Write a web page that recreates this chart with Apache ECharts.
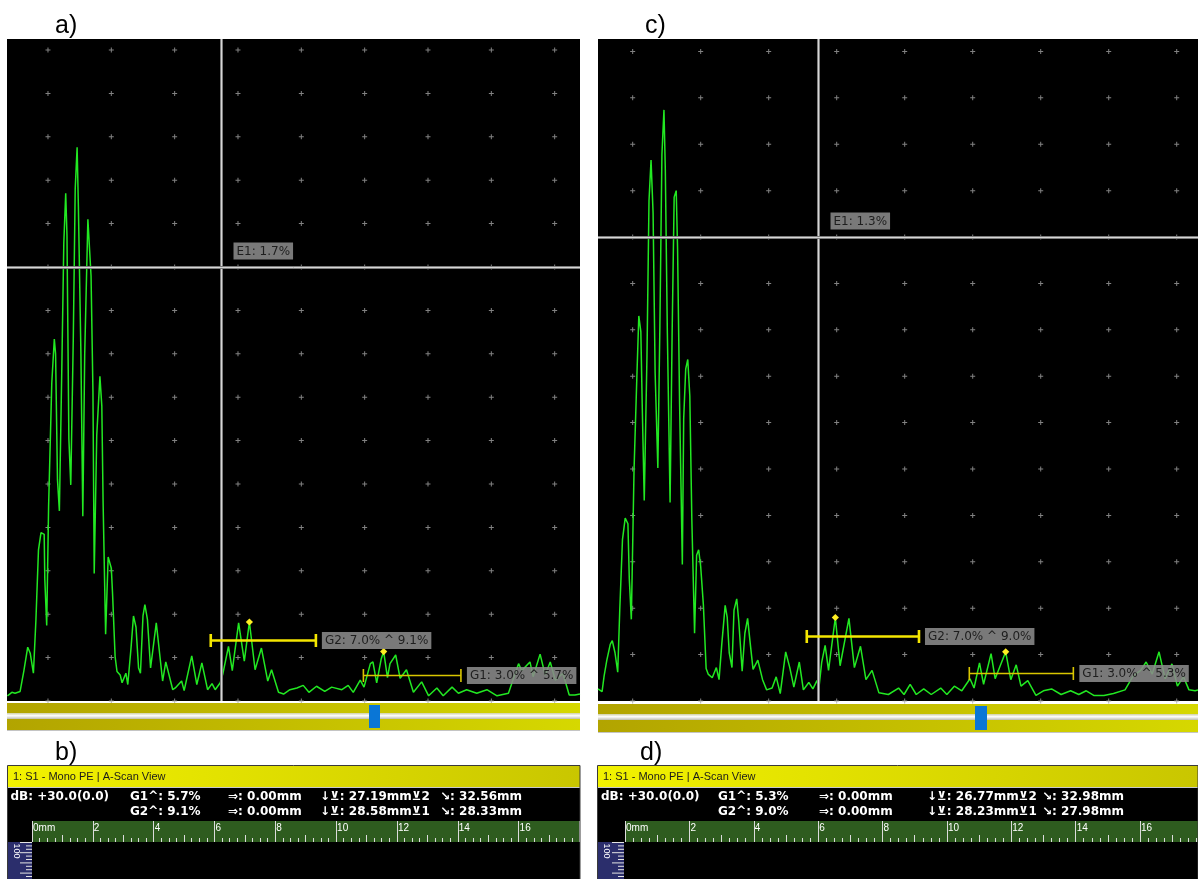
<!DOCTYPE html>
<html>
<head>
<meta charset="utf-8">
<script src="https://cdn.jsdelivr.net/npm/echarts@6/dist/echarts.min.js"></script>
<style>
html, body { margin: 0; padding: 0; background: #ffffff; }
#main { width: 1198px; height: 879px; }
</style>
</head>
<body>
<div id="main"></div>
<script>
// ---- A-scan traces: x in tenths of a screen division, amplitude in % of full screen height ----
const traceA_x = [-6.4,-5.7,-5.2,-4.4,-3.8,-3.2,-2.8,-2.3,-1.9,-1.5,-1.1,-0.6,-0.5,-0.2,0.1,0.6,1.0,1.2,1.5,1.8,
  2.2,2.5,2.8,3.0,3.3,3.6,4.0,4.3,4.6,4.8,5.2,5.5,5.8,6.3,6.5,6.8,7.1,7.3,7.7,8.2,8.5,8.7,9.1,9.5,9.7,10.0,10.2,
  10.6,10.9,11.4,11.7,12.3,12.6,13.1,13.5,13.9,14.3,14.6,15.0,15.3,15.7,16.2,17.1,18.1,18.6,19.7,20.1,21.1,21.5,
  22.7,23.5,24.3,25.2,25.9,26.4,27.2,27.6,28.5,29.1,30.1,31.0,31.8,32.7,33.7,34.7,35.3,36.4,37.2,38.2,39.3,40.3,
  41.2,42.4,43.7,44.8,46.4,47.4,48.2,49.3,49.9,50.9,51.3,51.9,52.6,53.0,53.6,54.0,54.9,55.6,56.6,57.7,59.0,60.1,
  61.4,62.4,63.8,64.8,66.1,67.7,69.3,70.9,72.7,73.4,74.3,74.8,76.1,76.6,77.7,78.5,79.3,80.1,81.3,82.3,83.2,84.0];
const traceA_y = [0.6,1.0,0.9,1.1,3.5,6.2,5.5,3.2,9.4,17.4,19.4,19.2,14.0,8.7,22.5,36.6,41.7,40.0,25.5,21.9,
  39.0,52.8,58.5,53.6,30.2,24.9,42.0,59.0,63.8,57.0,40.0,21.3,40.0,55.5,55.7,49.0,35.7,14.7,30.6,37.4,34.0,23.0,7.7,16.6,16.5,15.3,12.3,
  5.1,3.4,3.0,2.1,3.2,1.9,6.0,9.8,8.5,3.8,3.2,9.8,11.1,9.4,3.8,9.0,2.3,4.5,1.3,1.5,2.3,1.2,
  5.2,1.9,4.4,1.3,2.0,1.3,2.1,3.1,6.3,3.5,9.0,4.6,9.1,3.6,6.1,2.3,3.6,1.0,0.8,1.3,1.5,1.8,
  1.0,1.7,1.1,1.6,1.3,1.8,1.0,2.4,1.6,4.3,4.5,2.1,4.8,5.7,2.7,4.3,5.3,2.6,3.6,1.0,2.2,0.6,
  1.5,0.6,1.6,0.9,1.3,0.9,1.3,0.6,0.9,2.4,4.3,3.5,4.5,2.8,5.4,3.0,4.5,2.4,3.2,0.7,0.7,0.8];

const traceC_x = [-5.1,-4.5,-4.2,-3.8,-3.3,-3.0,-2.6,-2.2,-1.9,-1.5,-1.1,-0.7,-0.5,-0.2,0.2,0.6,0.9,1.2,1.4,1.7,
  2.1,2.4,2.7,3.0,3.3,3.7,4.0,4.3,4.6,4.8,5.1,5.5,5.8,6.1,6.4,6.6,6.9,7.3,7.5,7.8,8.1,8.4,8.7,9.1,9.4,9.7,10.0,
  10.4,10.8,11.1,11.7,12.3,12.7,13.1,13.6,13.9,14.2,14.6,14.9,15.3,15.6,16.1,16.5,16.9,17.3,17.7,18.4,19.1,19.7,
  20.5,21.1,21.7,22.5,23.1,23.7,24.5,25.1,25.9,26.5,27.1,27.4,27.8,28.3,28.8,29.8,30.5,31.8,32.6,33.5,34.3,35.2,
  36.2,37.6,39.1,39.9,40.8,41.7,42.8,43.9,45.3,46.2,47.3,48.4,49.6,50.2,51.0,51.6,52.7,53.3,54.85,55.6,56.4,57.1,
  58.1,59.3,60.4,61.6,63.0,64.4,65.6,66.7,67.8,69.3,70.7,72.4,73.6,74.7,75.5,76.4,77.4,78.3,79.3,80.1,81.0,81.8,82.7,83.2];
const traceC_y = [1.3,1.0,2.7,4.4,6.1,6.5,5.2,3.1,9.8,17.4,19.7,19.1,13.2,8.8,24.9,34.6,41.5,39.8,32.0,21.6,
  37.1,53.9,58.3,52.6,35.4,25.1,40.4,58.9,63.7,57.2,39.6,21.4,39.6,54.3,55.0,48.8,32.0,14.7,30.4,35.8,36.8,32.9,19.5,7.3,15.7,16.3,14.5,
  10.3,3.5,2.9,2.5,3.6,2.3,6.1,10.3,9.0,5.2,3.6,9.8,11.0,8.6,3.2,7.3,8.9,6.1,3.4,4.4,2.3,1.2,
  1.4,2.6,0.8,5.3,3.6,1.5,4.2,1.2,2.0,1.3,2.2,1.5,4.2,6.0,3.3,9.0,3.8,8.9,3.6,5.9,2.3,3.3,
  0.9,0.7,1.4,0.7,1.8,0.7,1.3,0.7,1.4,0.7,1.6,1.1,2.4,1.4,4.1,1.8,5.1,2.4,5.3,2.3,3.9,1.6,
  2.2,0.6,1.1,1.3,0.7,1.1,0.7,1.1,0.6,0.6,0.8,1.2,2.7,3.3,4.2,2.9,5.3,2.4,4.0,1.6,2.6,1.2,1.1,1.2];

// ---- Gates (start, end, threshold level, peak position and peak amplitude) ----
const gateNames = ['G1', 'G2'];
const gateA_start = [49.8, 25.7];
const gateA_end = [65.2, 42.3];
const gateA_level = [3.0, 7.0];
const gateA_peakX = [53.0, 31.8];
const gateA_peak = [5.7, 9.1];

const gateC_start = [49.5, 25.6];
const gateC_end = [64.8, 42.1];
const gateC_level = [3.0, 7.0];
const gateC_peakX = [54.85, 29.8];
const gateC_peak = [5.3, 9.0];

// ---- Cursor (crosshair) position and echo reading ----
const cursorA = [27.3, 50];
const echoA = 1.7;
const cursorC = [27.25, 50];
const echoC = 1.3;

// ---- Screen graticule ----
const divX = [0, 10, 20, 30, 40, 50, 60, 70, 80];
const divYA = [0, 5, 10, 15, 20, 25, 30, 35, 40, 45, 50, 55, 60, 65, 70, 75];
const divYC = [0, 5, 10, 15, 20, 25, 30, 35, 40, 45, 50, 55, 60, 65, 70];

// ---- Status panel readings ----
const gainText = '+30.0(0.0)';
const shiftB = [0.00, 0.00];
const depthB = [27.19, 28.58];
const pathB = [32.56, 28.33];
const shiftD = [0.00, 0.00];
const depthD = [26.77, 28.23];
const pathD = [32.98, 27.98];
const rulerMaxB = 18.0;
const rulerMaxD = 17.8;

const GREEN = '#22e822';
const LABEL_BG = 'rgba(138,138,138,0.88)';

function pairs(xs, ys) { return xs.map((x, i) => [x, ys[i]]); }
function dots(ys) { const out = []; divX.forEach(x => ys.forEach(y => out.push([x, y]))); return out; }

function dotSeries(idx, ys) {
  return {
    type: 'scatter', xAxisIndex: idx, yAxisIndex: idx, silent: true, clip: true, z: 1,
    symbol: 'path://M2 0h1v2h2v1h-2v2h-1v-2h-2v-1h2z', symbolSize: 5,
    itemStyle: { color: '#a2a2a2' },
    data: dots(ys)
  };
}

function traceSeries(idx, xs, ys) {
  return {
    type: 'line', xAxisIndex: idx, yAxisIndex: idx, silent: true, clip: true, z: 3,
    showSymbol: false, symbol: 'none',
    lineStyle: { color: GREEN, width: 1.5 },
    data: pairs(xs, ys)
  };
}

function cursorSeries(idx, cur, echo) {
  return {
    type: 'custom', xAxisIndex: idx, yAxisIndex: idx, silent: true, z: 4, clip: false,
    data: [[cur[0], cur[1], echo]],
    renderItem(params, api) {
      const p = api.coord([api.value(0), api.value(1)]);
      const cs = params.coordSys;
      const x = Math.round(p[0]) + 0.5, y = Math.round(p[1]) + 0.5;
      const dbl = (x1, y1, x2, y2) => [
        { type: 'line', shape: { x1, y1, x2, y2 }, style: { stroke: '#7c7c7c', lineWidth: 3 } },
        { type: 'line', shape: { x1, y1, x2, y2 }, style: { stroke: '#d6d6d6', lineWidth: 1 } }
      ];
      return {
        type: 'group',
        children: [
          ...dbl(x, cs.y, x, cs.y + cs.height),
          ...dbl(cs.x, y, cs.x + cs.width, y),
          {
            type: 'text', x: x + 12, y: y - 8,
            style: {
              text: 'E1: ' + api.value(2).toFixed(1) + '%',
              fontSize: 12, fontFamily: 'DejaVu Sans', fill: '#1e1e1e',
              align: 'left', verticalAlign: 'bottom',
              backgroundColor: LABEL_BG, padding: [3, 3, 2, 3]
            }
          }
        ]
      };
    }
  };
}

function gateSeries(idx, starts, ends, levels, peakXs, peaks) {
  return {
    type: 'custom', xAxisIndex: idx, yAxisIndex: idx, silent: true, z: 6, clip: false,
    encode: { x: [0, 1, 3], y: [2, 4] },
    data: starts.map((s, i) => [s, ends[i], levels[i], peakXs[i], peaks[i]]),
    renderItem(params, api) {
      const i = params.dataIndex;
      const lvl = api.value(2), pk = api.value(4);
      const a = api.coord([api.value(0), lvl]);
      const b = api.coord([api.value(1), lvl]);
      const d = api.coord([api.value(3), pk]);
      const main = gateNames[i] === 'G2';
      const col = main ? '#f4e600' : '#d9c600';
      const lw = main ? 2.6 : 1.6;
      const capH = 6.5;
      const y = Math.round(a[1]) + 0.5;
      const r = 3.6;
      return {
        type: 'group',
        children: [
          { type: 'line', shape: { x1: a[0], y1: y, x2: b[0], y2: y }, style: { stroke: col, lineWidth: lw } },
          { type: 'line', shape: { x1: a[0], y1: y - capH, x2: a[0], y2: y + capH }, style: { stroke: col, lineWidth: lw } },
          { type: 'line', shape: { x1: b[0], y1: y - capH, x2: b[0], y2: y + capH }, style: { stroke: col, lineWidth: lw } },
          { type: 'polygon', shape: { points: [[d[0], d[1] - r], [d[0] + r, d[1]], [d[0], d[1] + r], [d[0] - r, d[1]]] },
            style: { fill: '#ffee22' } },
          {
            type: 'text', x: b[0] + 6, y: y,
            style: {
              text: gateNames[i] + ': ' + lvl.toFixed(1) + '% ^ ' + pk.toFixed(1) + '%',
              fontSize: 12, fontFamily: 'DejaVu Sans', fill: '#1e1e1e',
              align: 'left', verticalAlign: 'middle',
              backgroundColor: LABEL_BG, padding: [3, 3, 2, 3]
            }
          }
        ]
      };
    }
  };
}

// ---- Fixed UI chrome: slider bars, status panels, panel captions ----
function hGrad(c0, c1) {
  return { type: 'linear', x: 0, y: 0, x2: 1, y2: 0, colorStops: [{ offset: 0, color: c0 }, { offset: 1, color: c1 }] };
}
function slider(x, y, w, h, handleX, handleW) {
  return [
    { type: 'rect', shape: { x, y, width: w, height: h }, style: { fill: hGrad('#b2a400', '#d6d800') }, z: 10 },
    { type: 'rect', shape: { x, y: y + 10, width: w, height: 6 },
      style: { fill: { type: 'linear', x: 0, y: 0, x2: 0, y2: 1, colorStops: [
        { offset: 0, color: '#cfcfa8' }, { offset: 0.45, color: '#ffffff' }, { offset: 1, color: '#bdbdb0' }] } }, z: 11 },
    { type: 'rect', shape: { x, y: y + h, width: w, height: 1 }, style: { fill: '#c4c4c4' }, z: 10 },
    { type: 'rect', shape: { x: handleX, y: y + 2, width: handleW, height: h - 4 }, style: { fill: '#0a76d6' }, z: 12 }
  ];
}
function infoText(x, y, text) {
  return { type: 'text', x, y, z: 12,
    style: { text, fill: '#ffffff', font: 'bold 12px "DejaVu Sans"', align: 'left', verticalAlign: 'middle' } };
}
// Depth scale strip on the left of the B-scan area
function depthScale(x, w) {
  const els = [{ type: 'rect', shape: { x, y: 842, width: w, height: 37 }, style: { fill: '#2b2e6c' }, z: 11 }];
  for (let k = 0; k <= 10; k++) {
    const len = k % 3 === 0 ? 12 : 6;
    const yy = 842.5 + k * 3.4;
    els.push({ type: 'line', shape: { x1: x + w - len, y1: yy, x2: x + w, y2: yy },
      style: { stroke: '#e4e4e4', lineWidth: 1 }, z: 12 });
  }
  els.push({ type: 'text', x: x + 8, y: 851, rotation: -Math.PI / 2, z: 12,
    style: { text: '100', fill: '#ffffff', font: '9px "Liberation Sans"', align: 'center', verticalAlign: 'middle' } });
  return els;
}
function statusPanel(x, w, cols, g1, g2, shift, depth, path, scaleW) {
  return [
    { type: 'rect', shape: { x: x, y: 787, width: w, height: 92 }, style: { fill: '#000000' }, z: -5 },
    { type: 'rect', shape: { x: x, y: 766, width: w, height: 21 }, style: { fill: hGrad('#f2f200', '#c9c600') }, z: 10 },
    { type: 'rect', shape: { x: x - 0.5, y: 765.5, width: w + 0.5, height: 120 }, style: { fill: 'none', stroke: '#3a3a3a', lineWidth: 1 }, z: 13 },
    { type: 'rect', shape: { x: x, y: 787, width: w, height: 1 }, style: { fill: '#c8c8c8' }, z: 11 },
    { type: 'text', x: x + 5, y: 776.5, z: 12,
      style: { text: '1: S1 - Mono PE | A-Scan View', fill: '#1a1a1a', font: '11px "Liberation Sans"', align: 'left', verticalAlign: 'middle' } },
    infoText(cols[0], 797, 'dB: ' + gainText),
    infoText(cols[1], 797, 'G1^: ' + g1.toFixed(1) + '%'),
    infoText(cols[1], 812, 'G2^: ' + g2.toFixed(1) + '%'),
    infoText(cols[2], 797, '\u21D2: ' + shift[0].toFixed(2) + 'mm'),
    infoText(cols[2], 812, '\u21D2: ' + shift[1].toFixed(2) + 'mm'),
    infoText(cols[3], 797, '\u2193\u22BB: ' + depth[0].toFixed(2) + 'mm\u22BB2'),
    infoText(cols[3], 812, '\u2193\u22BB: ' + depth[1].toFixed(2) + 'mm\u22BB1'),
    infoText(cols[4], 797, '\u2198: ' + path[0].toFixed(2) + 'mm'),
    infoText(cols[4], 812, '\u2198: ' + path[1].toFixed(2) + 'mm'),
    ...depthScale(x, scaleW)
  ];
}
function caption(x, y, t) {
  return { type: 'text', x, y, z: 12, style: { text: t, fill: '#000000', font: '25px "Liberation Sans"', align: 'left', verticalAlign: 'middle' } };
}

const rulerX = (idx, max) => [
  { gridIndex: idx, type: 'value', min: 0, max: max, interval: 1, position: 'bottom',
    axisLine: { show: false }, axisLabel: { show: false }, splitLine: { show: false },
    axisTick: { show: true, inside: true, length: 7, lineStyle: { color: '#dcdcdc' } },
    minorTick: { show: true, splitNumber: 4, length: 4, lineStyle: { color: '#dcdcdc' } } },
  { gridIndex: idx, type: 'value', min: 0, max: max, interval: 2, position: 'top',
    axisLine: { show: false }, axisTick: { show: false },
    splitLine: { show: true, lineStyle: { color: '#dcdcdc', width: 1 } },
    axisLabel: { inside: true, margin: 2, color: '#ffffff', fontSize: 10, fontFamily: 'Liberation Sans',
      align: 'left', padding: [0, 0, 0, 1], showMaxLabel: false,
      formatter: v => (v === 0 ? '0mm' : String(v)) } }
];
const hidden = (idx, min, max) => ({ gridIndex: idx, type: 'value', min, max, show: false });

const chart = echarts.init(document.getElementById('main'), null, { renderer: 'canvas' });
chart.setOption({
  animation: false,
  backgroundColor: '#ffffff',
  grid: [
    { left: 7, top: 39, width: 573, height: 662, show: true, backgroundColor: '#000000', borderWidth: 0 },
    { left: 598, top: 39, width: 600, height: 662, show: true, backgroundColor: '#000000', borderWidth: 0 },
    { left: 32, top: 821, width: 547.4, height: 21, show: true, backgroundColor: '#2e5c1f', borderWidth: 0 },
    { left: 625, top: 821, width: 573, height: 21, show: true, backgroundColor: '#2e5c1f', borderWidth: 0 }
  ],
  xAxis: [
    hidden(0, -6.47, 84.0),
    hidden(1, -5.1, 83.13),
    ...rulerX(2, rulerMaxB),
    ...rulerX(3, rulerMaxD)
  ],
  yAxis: [
    hidden(0, 0, 76.27),
    hidden(1, 0, 71.34),
    hidden(2, 0, 1),
    hidden(3, 0, 1)
  ],
  series: [
    dotSeries(0, divYA),
    dotSeries(1, divYC),
    traceSeries(0, traceA_x, traceA_y),
    traceSeries(1, traceC_x, traceC_y),
    cursorSeries(0, cursorA, echoA),
    cursorSeries(1, cursorC, echoC),
    gateSeries(0, gateA_start, gateA_end, gateA_level, gateA_peakX, gateA_peak),
    gateSeries(1, gateC_start, gateC_end, gateC_level, gateC_peakX, gateC_peak)
  ],
  graphic: [
    caption(55, 26, 'a)'),
    caption(645, 26, 'c)'),
    caption(55, 753, 'b)'),
    caption(640, 753, 'd)'),
    ...slider(7, 703, 573, 27, 369, 11),
    ...slider(598, 704, 600, 28, 975, 12),
    ...statusPanel(8, 572, [10.5, 130, 228, 320, 440], gateA_peak[0], gateA_peak[1], shiftB, depthB, pathB, 24),
    ...statusPanel(598, 600, [601, 718, 819, 927, 1042], gateC_peak[0], gateC_peak[1], shiftD, depthD, pathD, 26)
  ]
});
</script>
</body>
</html>
